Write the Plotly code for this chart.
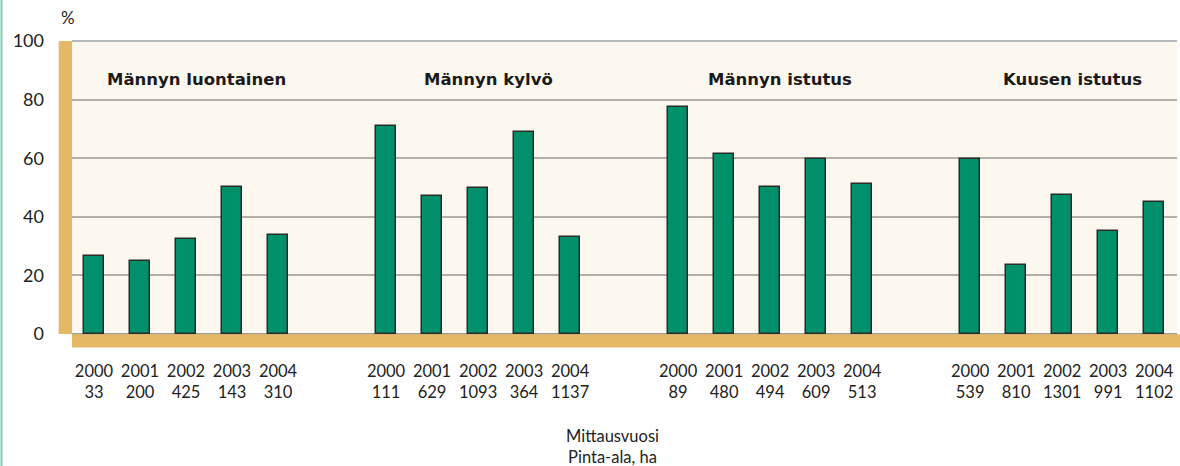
import plotly.graph_objects as go

groups = ["Männyn luontainen", "Männyn kylvö", "Männyn istutus", "Kuusen istutus"]
years = ["2000", "2001", "2002", "2003", "2004"]
areas = [
    [33, 200, 425, 143, 310],
    [111, 629, 1093, 364, 1137],
    [89, 480, 494, 609, 513],
    [539, 810, 1301, 991, 1102],
]
values = [
    [26.5, 24.9, 32.5, 50.2, 33.9],
    [71.1, 47.1, 49.8, 68.8, 33.1],
    [77.5, 61.4, 50.2, 59.6, 51.3],
    [59.6, 23.5, 47.6, 35.0, 45.2],
]
y_ticks = [0, 20, 40, 60, 80, 100]

GREEN = "#00916B"
GOLD = "#E5B866"
CREAM = "#FDF8EF"
FONT = "Lato"
TITLE_FONT = "DejaVu Sans"

W, H = 1180, 466
L, R, T, B = 72, 3, 41, 132
pw = W - L - R
ph = H - T - B

stride = 6.348
xs, ys, tickvals, ticktext = [], [], [], []
for g, grp in enumerate(groups):
    for i, yr in enumerate(years):
        x = g * stride + i
        xs.append(x)
        ys.append(values[g][i])
        tickvals.append(x)
        ticktext.append(f"{yr}<br>{areas[g][i]}")

fig = go.Figure()
fig.add_trace(go.Bar(
    x=xs, y=ys, width=0.435,
    marker=dict(color=GREEN, line=dict(color="#2a2a2a", width=1.5)),
    hoverinfo="y",
))

annotations = []
for g, grp in enumerate(groups):
    annotations.append(dict(
        x=g * stride + 2 + 0.22, y=86.8, xref="x", yref="y", text=f"<b>{grp}</b>",
        showarrow=False, font=dict(family=TITLE_FONT, size=16.5, color="#1a1a1a"),
        xanchor="center", yanchor="middle",
    ))
annotations.append(dict(
    x=(68 - L) / pw, y=1 + (41 - 18) / ph, xref="paper", yref="paper", text="%",
    showarrow=False, font=dict(family=FONT, size=17, color="#222"),
    xanchor="center", yanchor="middle",
))
annotations.append(dict(
    x=(612 - L) / pw, y=-(446 - T - ph) / ph, xref="paper", yref="paper",
    text="Mittausvuosi<br>Pinta-ala, ha",
    showarrow=False, font=dict(family=FONT, size=16.5, color="#222"),
    xanchor="center", yanchor="middle",
))

shapes = [
    # left gold band
    dict(type="rect", xref="paper", yref="paper", x0=-13.3 / pw, x1=0, y0=0, y1=1,
         fillcolor=GOLD, line=dict(width=0), layer="above"),
    # bottom gold band
    dict(type="rect", xref="paper", yref="paper", x0=0, x1=(W - L) / pw,
         y0=-13.5 / ph, y1=-0.3 / ph, fillcolor=GOLD, line=dict(width=0), layer="above"),
    # teal page border
    dict(type="line", xref="paper", yref="paper", x0=(1.5 - L) / pw, x1=(1.5 - L) / pw,
         y0=-(B) / ph, y1=1 + T / ph, line=dict(color="#79CDB3", width=2)),
    # top gridline slightly bluish
    dict(type="line", xref="paper", yref="paper", x0=0, x1=1, y0=1, y1=1,
         line=dict(color="#9EA3AA", width=1.5)),
]

fig.update_layout(
    width=W, height=H,
    margin=dict(l=L, r=R, t=T, b=B, autoexpand=False),
    paper_bgcolor="white",
    plot_bgcolor=CREAM,
    showlegend=False,
    bargap=0,
    annotations=annotations,
    shapes=shapes,
    xaxis=dict(
        range=[-0.478, 23.54],
        tickmode="array", tickvals=tickvals, ticktext=ticktext,
        showgrid=False, zeroline=False, showline=False, ticks="",
        tickfont=dict(family=FONT, size=16.5, color="#222"),
        ticklabelstandoff=25,
        automargin=False,
        fixedrange=True,
    ),
    yaxis=dict(
        range=[0, 100],
        tickmode="array", tickvals=y_ticks,
        showgrid=True, gridcolor="#B3AFA9", gridwidth=1.5,
        zeroline=True, zerolinecolor="#9E9E9E", zerolinewidth=1.5,
        showline=False, ticks="",
        tickfont=dict(family=FONT, size=18, color="#222"),
        ticklabelstandoff=27,
        automargin=False,
        fixedrange=True,
    ),
)

fig.write_html(
    "out.html",
    config={"displayModeBar": False},
    post_script="document.body.style.margin='0';document.body.style.overflow='hidden';",
)
